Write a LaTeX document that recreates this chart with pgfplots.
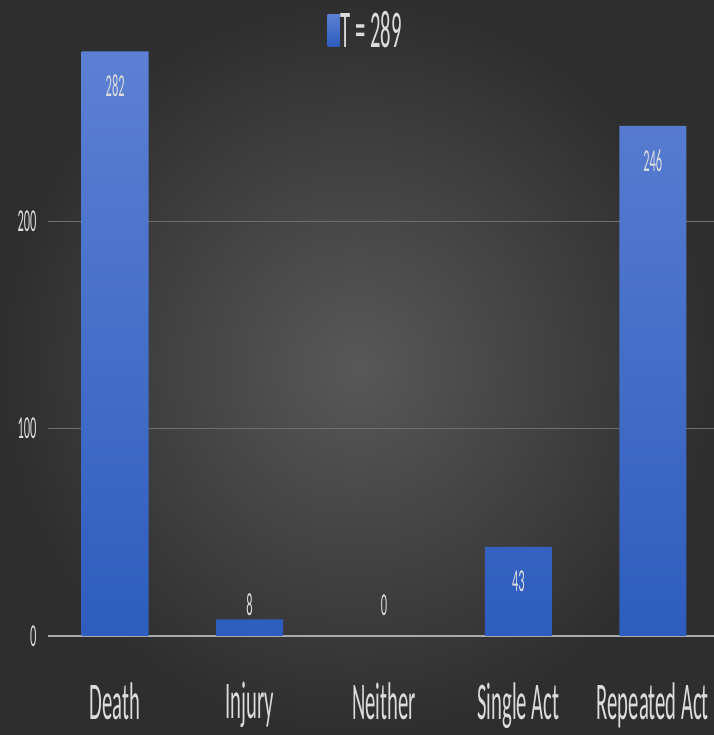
\documentclass[border=0pt]{standalone}
\usepackage{pgfplots}
\pgfplotsset{compat=1.18}
\usepackage{fontspec}
\setmainfont{Carlito}[FakeStretch=0.39]
\definecolor{bgin}{HTML}{585858}
\definecolor{bgout}{HTML}{2E2E2E}
\definecolor{bartop}{HTML}{5C80D3}
\definecolor{barbot}{HTML}{2E5DBE}
\definecolor{txt}{HTML}{DCDCDC}
\definecolor{gridc}{HTML}{6E6E6E}
\definecolor{axc}{HTML}{ABABAB}
\begin{document}
\begin{tikzpicture}
\useasboundingbox (0,0) rectangle (714bp,735bp);
\shade[inner color=bgin, outer color=bgout] (0,0) rectangle (714bp,735bp);
\begin{axis}[
  at={(48bp,99bp)}, anchor=south west,
  scale only axis, width=672bp, height=622bp,
  xmin=-0.5, xmax=4.5, ymin=0, ymax=300,
  axis line style={draw=none},
  major tick length=0pt,
  xtick={0,1,2,3,4},
  xticklabels={Death,Injury,Neither,Single Act,Repeated Act},
  xticklabel style={font=\fontsize{53bp}{60bp}\selectfont, text=txt, anchor=north, inner sep=0pt, yshift=-46bp},
  ytick={100,200},
  extra y ticks={0},
  extra y tick style={grid style={color=axc, line width=2bp}},
  ymajorgrids,
  grid style={color=gridc, line width=1.2bp},
  yticklabel style={font=\fontsize{32bp}{36bp}\selectfont, text=txt, anchor=east, xshift=-8bp},
  /pgf/number format/assume math mode=true,
  legend style={at={(0.472,0.974)}, anchor=center, draw=none, fill=none,
    text=txt, font=\fontsize{53bp}{60bp}\selectfont, legend columns=-1,
    inner sep=0pt, nodes={inner sep=1bp}},
  legend image code/.code={\fill[bartop!70!barbot] (-3bp,-16bp) rectangle (9bp,16bp);},
]
\addplot[ybar, bar width=67bp, draw=none, top color=bartop, bottom color=barbot,
  visualization depends on={y \as \rawy},
  nodes near coords,
  nodes near coords style={font=\fontsize{32bp}{36bp}\selectfont, text=txt, anchor=center,
    yshift={ifthenelse(\rawy>20,-35,(15-\rawy)*2.0733)}},
] coordinates {(0,282) (1,8) (2,0) (3,43) (4,246)};
\addlegendentry{T = 289}
\end{axis}
\end{tikzpicture}
\end{document}
